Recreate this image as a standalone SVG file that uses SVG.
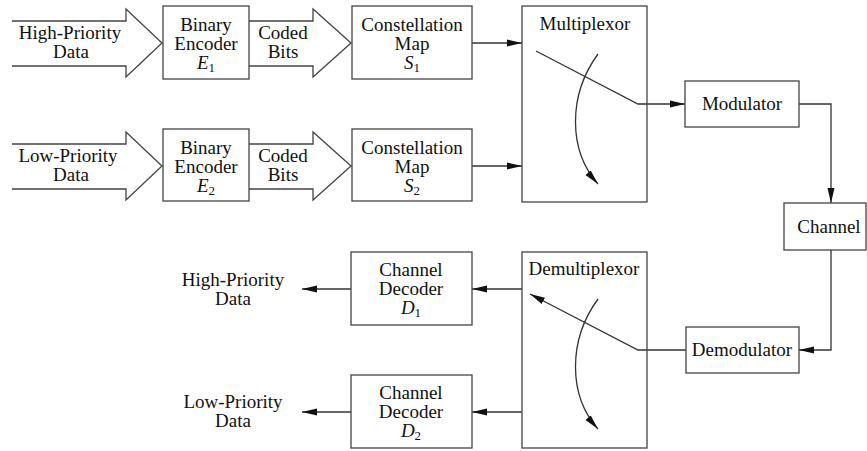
<svg xmlns="http://www.w3.org/2000/svg" width="867" height="451" viewBox="0 0 867 451">
<defs>
<marker id="ah" markerWidth="15" markerHeight="8" refX="15" refY="4" orient="auto" markerUnits="userSpaceOnUse">
<path d="M0,0.5 L15,4 L0,7.5 Z" fill="#111"/>
</marker>
</defs>
<style>
.box{fill:#fff;stroke:#444;stroke-width:1.3}
.fat{fill:none;stroke:#444;stroke-width:1.3}
.ln{fill:none;stroke:#333;stroke-width:1.3}
.t{font-family:"Liberation Serif","Times New Roman",serif;font-size:19px;fill:#111;text-anchor:middle}
.i{font-style:italic}
.s{font-size:13px}
</style>
<rect width="867" height="451" fill="#fff"/>

<g id="connectors">
<polyline class="fat" points="12,21 126,21 126,9 162,43 126,77 126,66 12,66"/>
<polyline class="fat" points="249,21 313,21 313,9 351,43 313,77 313,66 249,66"/>
<polyline class="fat" points="12,144 126,144 126,132 162,166 126,200 126,189 12,189"/>
<polyline class="fat" points="249,144 313,144 313,132 351,166 313,200 313,189 249,189"/>
<line class="ln" x1="472" y1="43" x2="522" y2="43" marker-end="url(#ah)"/>
<line class="ln" x1="472" y1="166" x2="522" y2="166" marker-end="url(#ah)"/>
<polyline class="ln" points="536,51 638,104 685,104" marker-end="url(#ah)"/>
<path class="ln" d="M598,54 C568,95 568,150 598,184" marker-end="url(#ah)"/>
<polyline class="ln" points="799,104 831,104 831,203" marker-end="url(#ah)"/>
<polyline class="ln" points="831,250 831,350 799,350" marker-end="url(#ah)"/>
<polyline class="ln" points="686,350 638,350 530,294" marker-end="url(#ah)"/>
<path class="ln" d="M598,299 C568,340 568,395 598,429" marker-end="url(#ah)"/>
<line class="ln" x1="522" y1="289" x2="472" y2="289" marker-end="url(#ah)"/>
<line class="ln" x1="351" y1="289" x2="302" y2="289" marker-end="url(#ah)"/>
<line class="ln" x1="522" y1="412" x2="472" y2="412" marker-end="url(#ah)"/>
<line class="ln" x1="351" y1="412" x2="302" y2="412" marker-end="url(#ah)"/>
</g>

<g id="label-hp-in"><text class="t" x="70" y="39">High-Priority</text><text class="t" x="71" y="58">Data</text></g>
<g id="label-lp-in"><text class="t" x="68" y="162">Low-Priority</text><text class="t" x="71" y="181">Data</text></g>
<g id="label-cb1"><text class="t" x="283" y="39">Coded</text><text class="t" x="283" y="58">Bits</text></g>
<g id="label-cb2"><text class="t" x="283" y="162">Coded</text><text class="t" x="283" y="181">Bits</text></g>

<g id="enc1"><rect class="box" x="163" y="6" width="86" height="73"/>
<text class="t" x="206" y="31">Binary</text><text class="t" x="206" y="50">Encoder</text>
<text class="t" x="206" y="69"><tspan class="i">E</tspan><tspan class="s" dy="3">1</tspan></text></g>
<g id="enc2"><rect class="box" x="163" y="129" width="86" height="72"/>
<text class="t" x="206" y="154">Binary</text><text class="t" x="206" y="173">Encoder</text>
<text class="t" x="206" y="192"><tspan class="i">E</tspan><tspan class="s" dy="3">2</tspan></text></g>

<g id="map1"><rect class="box" x="352" y="6" width="120" height="73"/>
<text class="t" x="412" y="31">Constellation</text><text class="t" x="412" y="50">Map</text>
<text class="t" x="412" y="69"><tspan class="i">S</tspan><tspan class="s" dy="3">1</tspan></text></g>
<g id="map2"><rect class="box" x="352" y="129" width="120" height="72"/>
<text class="t" x="412" y="154">Constellation</text><text class="t" x="412" y="173">Map</text>
<text class="t" x="412" y="192"><tspan class="i">S</tspan><tspan class="s" dy="3">2</tspan></text></g>

<g id="mux"><rect class="box" x="522" y="6" width="125" height="196" fill-opacity="0"/>
<text class="t" x="585" y="30">Multiplexor</text></g>

<g id="mod"><rect class="box" x="685" y="81" width="114" height="46"/>
<text class="t" x="742" y="110">Modulator</text></g>

<g id="channel"><rect class="box" x="784" y="203" width="82" height="47"/>
<text class="t" x="829" y="233">Channel</text></g>

<g id="demod"><rect class="box" x="686" y="327" width="113" height="46"/>
<text class="t" x="742" y="356">Demodulator</text></g>

<g id="demux"><rect class="box" x="522" y="252" width="125" height="196" fill-opacity="0"/>
<text class="t" x="584" y="275">Demultiplexor</text></g>

<g id="dec1"><rect class="box" x="351" y="252" width="121" height="73"/>
<text class="t" x="411" y="276">Channel</text><text class="t" x="411" y="295">Decoder</text>
<text class="t" x="411" y="314"><tspan class="i">D</tspan><tspan class="s" dy="3">1</tspan></text></g>
<g id="dec2"><rect class="box" x="351" y="375" width="121" height="73"/>
<text class="t" x="411" y="399">Channel</text><text class="t" x="411" y="418">Decoder</text>
<text class="t" x="411" y="437"><tspan class="i">D</tspan><tspan class="s" dy="3">2</tspan></text></g>

<g id="label-hp-out"><text class="t" x="233" y="286">High-Priority</text><text class="t" x="233" y="305">Data</text></g>
<g id="label-lp-out"><text class="t" x="233" y="408">Low-Priority</text><text class="t" x="233" y="427">Data</text></g>
</svg>
